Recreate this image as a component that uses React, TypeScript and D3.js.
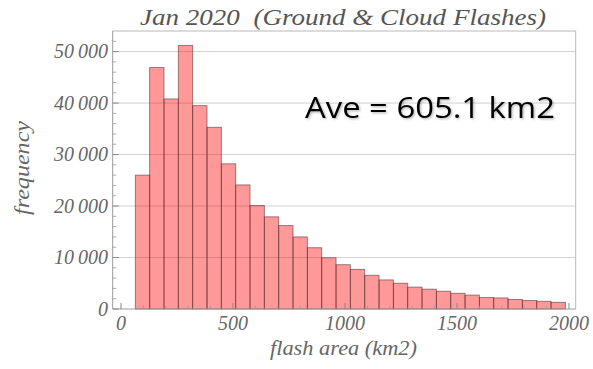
import React from "react";
import * as d3 from "d3";

const W = 593;
const H = 369;

const titleText = "Jan 2020\u00a0\u00a0(Ground & Cloud Flashes)";
const xLabel = "flash area (km2)";
const yLabel = "frequency";
const annotation = "Ave = 605.1 km2";

const binStart = 64;
const binWidth = 64;
const counts = [
  26000, 46900, 40800, 51200, 39500, 35300, 28200, 24100, 20100, 17900,
  16200, 14000, 11900, 9950, 8600, 7700, 6550, 5650, 5000, 4250,
  3850, 3450, 3050, 2700, 2250, 2150, 1850, 1650, 1500, 1300,
];

const xMajorTicks = [0, 500, 1000, 1500, 2000];
const yMajorTicks = [0, 10000, 20000, 30000, 40000, 50000];

const serif = "'Liberation Serif', 'DejaVu Serif', serif";

function fmt(v: number) {
  if (v < 10000) return String(v);
  const s = String(v);
  return s.slice(0, s.length - 3) + "\u2009" + s.slice(s.length - 3);
}

export default function App() {
  const x = d3.scaleLinear().domain([-37, 2030]).range([112.7, 575.7]);
  const y = d3.scaleLinear().domain([0, 54000]).range([309, 31]);

  const [x0, x1] = x.range();
  const [yb, yt] = y.range();

  const xMinor = d3.range(0, 2001, 100).filter((v) => v % 500 !== 0);
  const yMinor = d3.range(0, 54000, 2000).filter((v) => v % 10000 !== 0);

  const bins = counts.map((c, i) => ({
    a: binStart + i * binWidth,
    b: binStart + (i + 1) * binWidth,
    c,
  }));

  return (
    <svg
      width={W}
      height={H}
      style={{ position: "absolute", left: 0, top: 0, display: "block", background: "#fff" }}
    >
      <defs>
        <filter id="sh" x="-10%" y="-30%" width="130%" height="160%">
          <feDropShadow dx="1.2" dy="1.2" stdDeviation="1" floodColor="#000" floodOpacity="0.3" />
        </filter>
      </defs>

      {/* gridlines */}
      {yMajorTicks
        .filter((v) => v > 0)
        .map((v) => (
          <line key={"g" + v} x1={x0} x2={x1} y1={y(v)} y2={y(v)} stroke="#d2d2d2" strokeWidth={1} />
        ))}

      {/* frame top/right */}
      <line x1={x0} x2={x1} y1={yt} y2={yt} stroke="#b8b8b8" strokeWidth={1} />
      <line x1={x1} x2={x1} y1={yt} y2={yb} stroke="#b8b8b8" strokeWidth={1} />

      {/* bars */}
      {bins.map((d, i) => (
        <rect
          key={i}
          x={x(d.a)}
          y={y(d.c)}
          width={x(d.b) - x(d.a)}
          height={y(0) - y(d.c)}
          fill="rgb(255,0,0)"
          fillOpacity={0.4}
          stroke="#5a3535"
          strokeOpacity={0.65}
          strokeWidth={0.9}
        />
      ))}

      {/* axes lines */}
      <line x1={x0} x2={x1} y1={yb} y2={yb} stroke="#9a9a9a" strokeWidth={1} />
      <line x1={x0} x2={x0} y1={yt} y2={yb} stroke="#9a9a9a" strokeWidth={1} />

      {/* x ticks */}
      {xMajorTicks.map((v) => (
        <line key={"xt" + v} x1={x(v)} x2={x(v)} y1={yb} y2={yb - 6} stroke="#888" strokeWidth={1} />
      ))}
      {xMinor.map((v) => (
        <line key={"xm" + v} x1={x(v)} x2={x(v)} y1={yb} y2={yb - 3.5} stroke="#999" strokeWidth={0.8} />
      ))}
      {/* y ticks */}
      {yMajorTicks.map((v) => (
        <line key={"yt" + v} x1={x0} x2={x0 + 6} y1={y(v)} y2={y(v)} stroke="#888" strokeWidth={1} />
      ))}
      {yMinor.map((v) => (
        <line key={"ym" + v} x1={x0} x2={x0 + 3.5} y1={y(v)} y2={y(v)} stroke="#999" strokeWidth={0.8} />
      ))}

      {/* x tick labels */}
      {xMajorTicks.map((v) => (
        <text
          key={"xl" + v}
          x={x(v)}
          y={330}
          textAnchor="middle"
          fontFamily={serif}
          fontStyle="italic"
          fontSize={20}
          fill="#666"
        >
          {fmt(v)}
        </text>
      ))}
      {/* y tick labels */}
      {yMajorTicks.map((v) => (
        <text
          key={"yl" + v}
          x={108}
          y={y(v) + 6.5}
          textAnchor="end"
          fontFamily={serif}
          fontStyle="italic"
          fontSize={20}
          fill="#666"
        >
          {fmt(v)}
        </text>
      ))}

      {/* title */}
      <text
        x={140}
        y={25}
        fontFamily={serif}
        fontStyle="italic"
        fontSize={24}
        fill="#555"
        textLength={406}
        lengthAdjust="spacingAndGlyphs"
      >
        {titleText}
      </text>

      {/* axis labels */}
      <text
        x={270}
        y={355}
        fontFamily={serif}
        fontStyle="italic"
        fontSize={20}
        fill="#666"
        textLength={147}
        lengthAdjust="spacingAndGlyphs"
      >
        {xLabel}
      </text>
      <text
        transform="translate(29,215) rotate(-90)"
        fontFamily={serif}
        fontStyle="italic"
        fontSize={20}
        fill="#666"
        textLength={94}
        lengthAdjust="spacingAndGlyphs"
      >
        {yLabel}
      </text>

      {/* annotation */}
      <text
        x={305}
        y={118}
        fontFamily="'Open Sans', 'Noto Sans', sans-serif"
        fontSize={30}
        fill="#000"
        textLength={250}
        lengthAdjust="spacingAndGlyphs"
        filter="url(#sh)"
      >
        {annotation}
      </text>
    </svg>
  );
}
